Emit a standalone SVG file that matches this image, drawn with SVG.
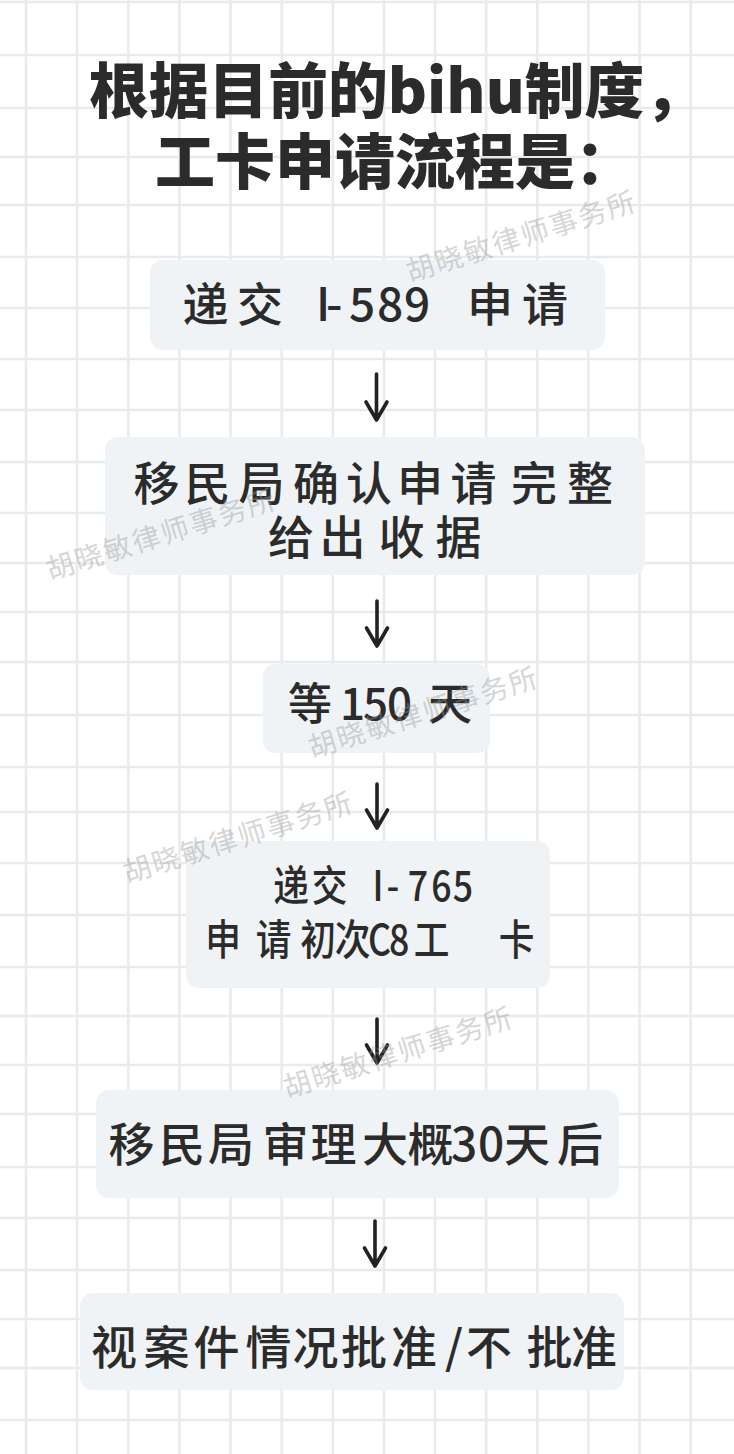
<svg xmlns="http://www.w3.org/2000/svg" width="734" height="1454" viewBox="0 0 734 1454">
<style>
.grid line{stroke:#eaeaea;stroke-width:2.5}
.box{fill:#eff3f6}
.title{font-family:"Noto Sans CJK SC","Noto Sans",sans-serif;font-weight:900;font-size:60px;fill:#2b2b2b}
.t{font-family:"Noto Sans CJK SC","Noto Sans",sans-serif;font-weight:500;fill:#2b2b2b}
.wm{font-family:"Noto Sans CJK SC",sans-serif;font-size:28px;fill:#9a9a9a;opacity:0.4;letter-spacing:2px}
.arr{fill:none;stroke:#222;stroke-width:3.6;stroke-linecap:round;stroke-linejoin:round}
</style>
<rect width="734" height="1454" fill="#ffffff"/>
<g class="grid">
<line x1="26" y1="0" x2="26" y2="1454"/><line x1="77.1" y1="0" x2="77.1" y2="1454"/><line x1="128.3" y1="0" x2="128.3" y2="1454"/><line x1="179.4" y1="0" x2="179.4" y2="1454"/><line x1="230.5" y1="0" x2="230.5" y2="1454"/><line x1="281.7" y1="0" x2="281.7" y2="1454"/><line x1="332.8" y1="0" x2="332.8" y2="1454"/><line x1="383.9" y1="0" x2="383.9" y2="1454"/><line x1="435" y1="0" x2="435" y2="1454"/><line x1="486.2" y1="0" x2="486.2" y2="1454"/><line x1="537.3" y1="0" x2="537.3" y2="1454"/><line x1="588.4" y1="0" x2="588.4" y2="1454"/><line x1="639.6" y1="0" x2="639.6" y2="1454"/><line x1="690.7" y1="0" x2="690.7" y2="1454"/>
<line x1="0" y1="2" x2="734" y2="2"/><line x1="0" y1="55" x2="734" y2="55"/><line x1="0" y1="108" x2="734" y2="108"/><line x1="0" y1="157" x2="734" y2="157"/><line x1="0" y1="205" x2="734" y2="205"/><line x1="0" y1="257" x2="734" y2="257"/><line x1="0" y1="308" x2="734" y2="308"/><line x1="0" y1="359" x2="734" y2="359"/><line x1="0" y1="410" x2="734" y2="410"/><line x1="0" y1="462" x2="734" y2="462"/><line x1="0" y1="513" x2="734" y2="513"/><line x1="0" y1="563" x2="734" y2="563"/><line x1="0" y1="612" x2="734" y2="612"/><line x1="0" y1="662" x2="734" y2="662"/><line x1="0" y1="715" x2="734" y2="715"/><line x1="0" y1="767" x2="734" y2="767"/><line x1="0" y1="812" x2="734" y2="812"/><line x1="0" y1="863" x2="734" y2="863"/><line x1="0" y1="915" x2="734" y2="915"/><line x1="0" y1="967" x2="734" y2="967"/><line x1="0" y1="1016" x2="734" y2="1016"/><line x1="0" y1="1065" x2="734" y2="1065"/><line x1="0" y1="1114" x2="734" y2="1114"/><line x1="0" y1="1167" x2="734" y2="1167"/><line x1="0" y1="1218" x2="734" y2="1218"/><line x1="0" y1="1270" x2="734" y2="1270"/><line x1="0" y1="1319" x2="734" y2="1319"/><line x1="0" y1="1368" x2="734" y2="1368"/><line x1="0" y1="1420" x2="734" y2="1420"/>
</g>
<g id="title">
<text class="title" x="89" y="113" textLength="615" lengthAdjust="spacingAndGlyphs">根据目前的bihu制度，</text>
<text class="title" x="155" y="184">工卡申请流程是：</text>
</g>
<g id="connectors">
<path class="arr" d="M376.5 374V419M366 402L376.5 420L387 402"/>
<path class="arr" d="M377 601V645M366.5 628L377 646L387.5 628"/>
<path class="arr" d="M377 784V827M366.5 810L377 828L387.5 810"/>
<path class="arr" d="M377 1019V1062M366.5 1045L377 1063L387.5 1045"/>
<path class="arr" d="M375 1221V1265M364.5 1248L375 1266L385.5 1248"/>
</g>
<g id="node1">
<rect class="box" x="150" y="260" width="455" height="90" rx="13"/>
<text class="t" font-size="46" y="321" x="182.5 237 290 316 326 349 377 404 440 467 522">递交 I-589 申请</text>
</g>
<g id="node2">
<rect class="box" x="105" y="437" width="540" height="138" rx="13"/>
<text class="t" font-size="46" y="500" x="133.5 184.5 238.5 293 346 397 450.5 511 567">移民局确认申请完整</text>
<text class="t" font-size="46" y="554" x="268 319.5 378.5 435.5">给出收据</text>
</g>
<g id="node3">
<rect class="box" x="263" y="664" width="227" height="89" rx="13"/>
<text class="t" font-size="44" y="720" x="288 340 363 387 428">等150天</text>
</g>
<g id="node4">
<rect class="box" x="186" y="841" width="364" height="147" rx="13"/>
<text class="t" font-size="42" y="901" transform="scale(0.85 1)" x="321.4 366.7 438.2 454.7 479.6 507.3 532.6">递交I-765</text>
<text class="t" font-size="42" y="955" transform="scale(0.85 1)" x="241.4 300.8 353.2 393.8 432.9 457.6 486.7 586.7">申请初次C8工卡</text>
</g>
<g id="node5">
<rect class="box" x="96" y="1090" width="523" height="108" rx="13"/>
<text class="t" font-size="46" y="1161" x="108.5 159 208 262.5 310.5 362 407.5 451 478 504 557">移民局审理大概30天后</text>
</g>
<g id="node6">
<rect class="box" x="80" y="1293" width="544" height="97" rx="13"/>
<text class="t" font-size="46" y="1364" x="91 143.5 193.5 245.5 292.5 341 391 445 466 526.5 571">视案件情况批准/不批准</text>
</g>
<g id="watermarks">
<text class="wm" transform="translate(410,282) rotate(-17.5)">胡晓敏律师事务所</text>
<text class="wm" transform="translate(50,580) rotate(-17.5)">胡晓敏律师事务所</text>
<text class="wm" transform="translate(312,758) rotate(-17.5)">胡晓敏律师事务所</text>
<text class="wm" transform="translate(127,883) rotate(-17.5)">胡晓敏律师事务所</text>
<text class="wm" transform="translate(287,1098) rotate(-17.5)">胡晓敏律师事务所</text>
</g>
</svg>
